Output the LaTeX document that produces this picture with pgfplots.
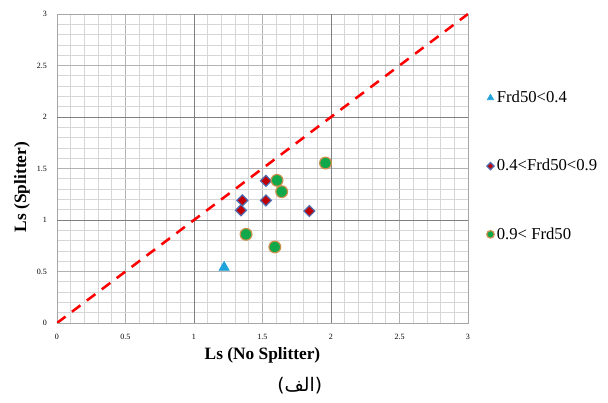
\documentclass[border=0pt]{standalone}
\usepackage{fontspec}
\setmainfont{Liberation Serif}
\newfontfamily\arabicfont[Script=Arabic]{DejaVu Sans}
\newfontfamily\parenfont{DejaVu Sans}
\TeXXeTstate=1
\usepackage{pgfplots}
\pgfplotsset{compat=1.18}
\definecolor{tri}{HTML}{1FA3DB}
\definecolor{dia}{HTML}{C00000}
\definecolor{diaedge}{HTML}{4F6CB0}
\definecolor{circ}{HTML}{10A84A}
\definecolor{circedge}{HTML}{C8904A}
\begin{document}
\begin{tikzpicture}
\path[use as bounding box] (-42.75pt,-60pt) rectangle (413.25pt,242.25pt);
\begin{axis}[
  at={(0,0)}, anchor=south west,
  scale only axis, width=308.25pt, height=231.75pt,
  xmin=0, xmax=3, ymin=0, ymax=3,
  xtick={0,0.5,...,3}, ytick={0,0.5,...,3},
  minor x tick num=4, minor y tick num=4,
  grid=both,
  major grid style={draw=black!30, line width=0.6pt},
  minor grid style={draw=black!16, line width=0.5pt},
  extra x ticks={1,2}, extra y ticks={1,2},
  extra x tick labels={}, extra y tick labels={},
  extra tick style={grid=major, major grid style={draw=black!50, line width=0.6pt}},
  axis line style={draw=black!35},
  major tick length=0pt, minor tick length=0pt,
  tick label style={font=\fontsize{6}{7}\selectfont},
  /pgf/number format/assume math mode=true,
  xticklabel style={yshift=-5pt}, yticklabel style={xshift=-4pt},
  xlabel={\textbf{Ls (No Splitter)}},
  xlabel style={font=\fontsize{13}{15}\selectfont, at={(axis description cs:0.5,-0.104)}, anchor=center},
  ylabel={\textbf{Ls (Splitter)}},
  ylabel style={font=\fontsize{13}{15}\selectfont, at={(axis description cs:-0.085,0.44)}, anchor=center},
  legend style={at={(1.045,0.76)}, anchor=north west, draw=none, fill=none,
    font=\fontsize{12.5}{14}\selectfont, row sep=37pt, inner sep=0pt,
    /tikz/every even column/.append style={column sep=1pt}},
  legend cell align=left,
]
\addplot[red, line width=1.9pt, dash pattern=on 8pt off 6pt, forget plot] coordinates {(0,0) (3,3)};
\addplot[only marks, mark=triangle*, mark size=4.5pt, mark options={fill=tri, draw=tri},
  legend image post style={mark size=2.8pt}] coordinates {(1.22,0.54)};
\addlegendentry{Frd50<0.4}
\addplot[only marks, mark=square*, mark size=2.9pt, mark options={rotate=45, fill=dia, draw=diaedge, line width=0.9pt},
  legend image post style={mark size=1.9pt}] coordinates {
  (1.525,1.38) (1.353,1.19) (1.343,1.094) (1.525,1.19) (1.842,1.087)};
\addlegendentry{0.4<Frd50<0.9}
\addplot[only marks, mark=*, mark size=4.4pt, mark options={fill=circ, draw=circedge, line width=0.9pt},
  legend image post style={mark size=2.8pt}] coordinates {
  (1.606,1.385) (1.64,1.275) (1.96,1.553) (1.38,0.861) (1.59,0.738)};
\addlegendentry{0.9< Frd50}
\end{axis}
\node[font=\fontsize{14}{16}\selectfont] at (182pt,-47pt) {{\parenfont(}{\arabicfont\beginR الف\endR}{\parenfont)}};
\end{tikzpicture}
\end{document}
